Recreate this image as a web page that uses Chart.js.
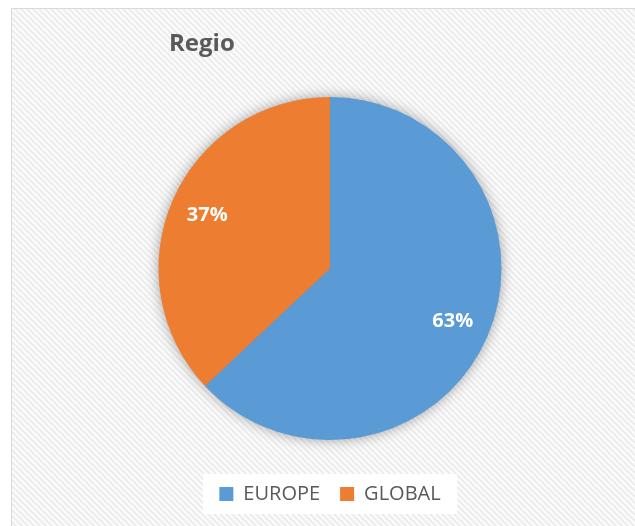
<!DOCTYPE html>
<html>
<head>
<meta charset="utf-8">
<script src="https://cdn.jsdelivr.net/npm/chart.js@4/dist/chart.umd.min.js"></script>
<style>
  html, body { margin: 0; padding: 0; background: #fff; }
  #wrap { width: 635px; height: 526px; position: relative; }
</style>
</head>
<body>
<div id="wrap"><canvas id="pie"></canvas></div>
<script>
const titleText = 'Regio';
const regions = ['EUROPE', 'GLOBAL'];
const shares = [63, 37];
const sliceColors = ['#5B9BD5', '#ED7D31'];

const FONT = "'Open Sans', 'Liberation Sans', sans-serif";

// hatched backdrop like the office chart area
function makeHatch() {
  const c = document.createElement('canvas');
  c.width = 6; c.height = 6;
  const g = c.getContext('2d');
  g.fillStyle = '#fbfbfb';
  g.fillRect(0, 0, 6, 6);
  g.strokeStyle = '#eaeaea';
  g.lineWidth = 1.6;
  g.beginPath();
  g.moveTo(-1, -1); g.lineTo(7, 7);
  g.moveTo(-4, 2); g.lineTo(4, 10);
  g.moveTo(2, -4); g.lineTo(10, 4);
  g.stroke();
  return c;
}

const backdrop = {
  id: 'backdrop',
  beforeDraw(chart) {
    const ctx = chart.ctx;
    ctx.save();
    ctx.fillStyle = ctx.createPattern(makeHatch(), 'repeat');
    ctx.fillRect(11, 8, chart.width - 11, chart.height - 8);
    ctx.strokeStyle = '#d9d9d9';
    ctx.lineWidth = 1;
    ctx.strokeRect(11.5, 8.5, chart.width, chart.height);
    // white box behind legend
    const box = chart.legend.legendHitBoxes[0];
    ctx.fillStyle = '#ffffff';
    ctx.fillRect(203, box.top + box.height / 2 - 20, 254, 40);
    // title
    ctx.fillStyle = '#595959';
    ctx.font = 'bold 24px ' + FONT;
    ctx.textBaseline = 'middle';
    ctx.fillText(titleText, 169, 44);
    ctx.restore();
  },
  beforeDatasetsDraw(chart) {
    const arc = chart.getDatasetMeta(0).data[0];
    const ctx = chart.ctx;
    ctx.save();
    ctx.shadowColor = 'rgba(0,0,0,0.4)';
    ctx.shadowBlur = 14;
    ctx.fillStyle = '#888';
    ctx.beginPath();
    ctx.arc(arc.x, arc.y, arc.outerRadius - 1, 0, Math.PI * 2);
    ctx.fill();
    ctx.restore();
  }
};

const sliceLabels = {
  id: 'sliceLabels',
  afterDatasetsDraw(chart) {
    const ctx = chart.ctx;
    const meta = chart.getDatasetMeta(0);
    const total = shares.reduce((a, b) => a + b, 0);
    ctx.save();
    ctx.fillStyle = '#ffffff';
    ctx.font = 'bold 20px ' + FONT;
    ctx.textAlign = 'center';
    ctx.textBaseline = 'middle';
    meta.data.forEach((arc, i) => {
      const mid = (arc.startAngle + arc.endAngle) / 2;
      const r = arc.outerRadius * 0.78;
      const pct = Math.round(shares[i] / total * 100) + '%';
      ctx.fillText(pct, arc.x + Math.cos(mid) * r, arc.y + Math.sin(mid) * r);
    });
    ctx.restore();
  }
};

new Chart(document.getElementById('pie'), {
  type: 'pie',
  data: {
    labels: regions,
    datasets: [{ data: shares, backgroundColor: sliceColors, borderWidth: 0 }]
  },
  options: {
    responsive: true,
    maintainAspectRatio: false,
    animation: false,
    layout: { padding: { left: 158, right: 133, top: 97, bottom: 12 } },
    plugins: {
      title: { display: false },
      tooltip: { enabled: false },
      legend: {
        position: 'bottom',
        title: { display: true, text: ' ', font: { size: 10, lineHeight: 1.2 }, padding: { top: 6, bottom: 6 } },
        labels: {
          color: '#595959',
          font: { family: FONT, size: 20 },
          boxWidth: 14,
          boxHeight: 14,
          padding: 20
        }
      }
    }
  },
  plugins: [backdrop, sliceLabels]
});
</script>
</body>
</html>
